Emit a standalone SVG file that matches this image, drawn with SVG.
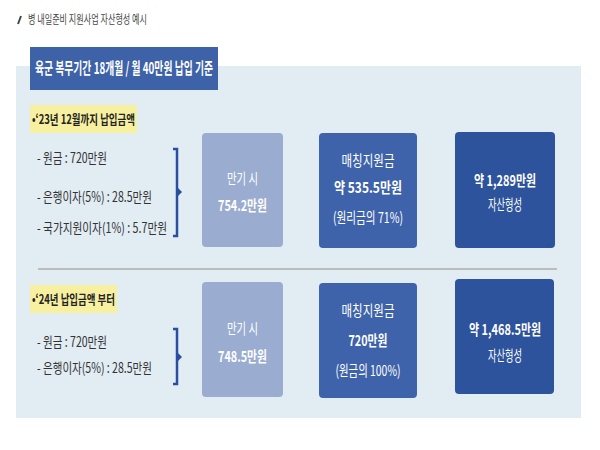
<svg xmlns="http://www.w3.org/2000/svg" width="600" height="450" viewBox="0 0 600 450">
<style>
text{font-family:"Noto Sans CJK KR","Noto Sans",sans-serif;}
.hd{font-size:12px;fill:#444;}
.ttl{font-size:16px;font-weight:bold;fill:#fff;}
.lbl{font-size:13px;font-weight:bold;fill:#222;}
.it{font-size:14px;fill:#333;}
.bx{font-size:15px;fill:#fff;text-anchor:middle;}
.b{font-weight:bold;}
.br{fill:none;stroke:#2a4fa0;stroke-width:2.5;}
</style>
<rect width="600" height="450" fill="#fff"/>
<g id="header">
<path d="M18,24 L21,16" stroke="#444" stroke-width="2"/>
<text class="hd" x="28" y="24" textLength="119" lengthAdjust="spacingAndGlyphs">병 내일준비 지원사업 자산형성 예시</text>
</g>
<rect id="panel" x="16" y="66" width="565" height="352" fill="#e2ecf3"/>
<g id="title">
<rect x="30" y="47" width="188" height="43" fill="#3d62a8"/>
<text class="ttl" x="35" y="74" textLength="178" lengthAdjust="spacingAndGlyphs">육군 복무기간 18개월 / 월 40만원 납입 기준</text>
</g>
<g id="row1-label">
<rect x="30" y="105" width="107" height="28" fill="#f7f0a0"/>
<text class="lbl" x="32" y="124" textLength="103" lengthAdjust="spacingAndGlyphs">•‘23년 12월까지 납입금액</text>
</g>
<g id="row1-items">
<text class="it" x="37" y="163" textLength="70" lengthAdjust="spacingAndGlyphs">- 원금 : 720만원</text>
<text class="it" x="37" y="202" textLength="115" lengthAdjust="spacingAndGlyphs">- 은행이자(5%) : 28.5만원</text>
<text class="it" x="37" y="233" textLength="130" lengthAdjust="spacingAndGlyphs">- 국가지원이자(1%) : 5.7만원</text>
</g>
<g id="row1-maturity">
<rect x="202" y="133" width="81" height="114" rx="4" fill="#9aacd0"/>
<text class="bx" x="242.5" y="184" textLength="31" lengthAdjust="spacingAndGlyphs">만기 시</text>
<text class="bx b" x="242.5" y="211" textLength="49" lengthAdjust="spacingAndGlyphs">754.2만원</text>
</g>
<g id="row1-matching">
<rect x="319" y="133" width="98" height="115" rx="4" fill="#3e63aa"/>
<text class="bx" x="368" y="166" textLength="53" lengthAdjust="spacingAndGlyphs">매칭지원금</text>
<text class="bx b" x="368" y="193" textLength="68" lengthAdjust="spacingAndGlyphs">약 535.5만원</text>
<text class="bx" x="368" y="223" textLength="70" lengthAdjust="spacingAndGlyphs">(원리금의 71%)</text>
</g>
<g id="row1-asset">
<rect x="455" y="132" width="100" height="116" rx="4" fill="#2d539c"/>
<text class="bx b" x="505" y="186" textLength="62" lengthAdjust="spacingAndGlyphs">약 1,289만원</text>
<text class="bx" x="505" y="210" font-size="13" textLength="34" lengthAdjust="spacingAndGlyphs">자산형성</text>
</g>
<line id="separator" x1="38" y1="269" x2="557" y2="269" stroke="#bdbdbd" stroke-width="2"/>
<g id="row2-label">
<rect x="30" y="285" width="87" height="28" fill="#f7f0a0"/>
<text class="lbl" x="32" y="304" textLength="83" lengthAdjust="spacingAndGlyphs">•‘24년 납입금액 부터</text>
</g>
<g id="row2-items">
<text class="it" x="37" y="347" textLength="70" lengthAdjust="spacingAndGlyphs">- 원금 : 720만원</text>
<text class="it" x="37" y="373" textLength="115" lengthAdjust="spacingAndGlyphs">- 은행이자(5%) : 28.5만원</text>
</g>
<g id="row2-maturity">
<rect x="202" y="282" width="81" height="115" rx="4" fill="#9aacd0"/>
<text class="bx" x="242.5" y="334" textLength="31" lengthAdjust="spacingAndGlyphs">만기 시</text>
<text class="bx b" x="242.5" y="362" textLength="49" lengthAdjust="spacingAndGlyphs">748.5만원</text>
</g>
<g id="row2-matching">
<rect x="319" y="283" width="98" height="115" rx="4" fill="#3e63aa"/>
<text class="bx" x="368" y="316" textLength="53" lengthAdjust="spacingAndGlyphs">매칭지원금</text>
<text class="bx b" x="368" y="346" textLength="39" lengthAdjust="spacingAndGlyphs">720만원</text>
<text class="bx" x="368" y="376" textLength="65" lengthAdjust="spacingAndGlyphs">(원금의 100%)</text>
</g>
<g id="row2-asset">
<rect x="455" y="279" width="99" height="115" rx="4" fill="#2d539c"/>
<text class="bx b" x="505" y="335" textLength="72" lengthAdjust="spacingAndGlyphs">약 1,468.5만원</text>
<text class="bx" x="505" y="361" font-size="13" textLength="34" lengthAdjust="spacingAndGlyphs">자산형성</text>
</g>
<g id="connectors">
<path class="br" d="M173,149 H177 V236 H173"/>
<path d="M177,187 L182,192 L177,197 Z" fill="#2a4fa0"/>
<path class="br" d="M173,329 H177 V384 H173"/>
<path d="M177,352 L182,357 L177,362 Z" fill="#2a4fa0"/>
</g>
</svg>
